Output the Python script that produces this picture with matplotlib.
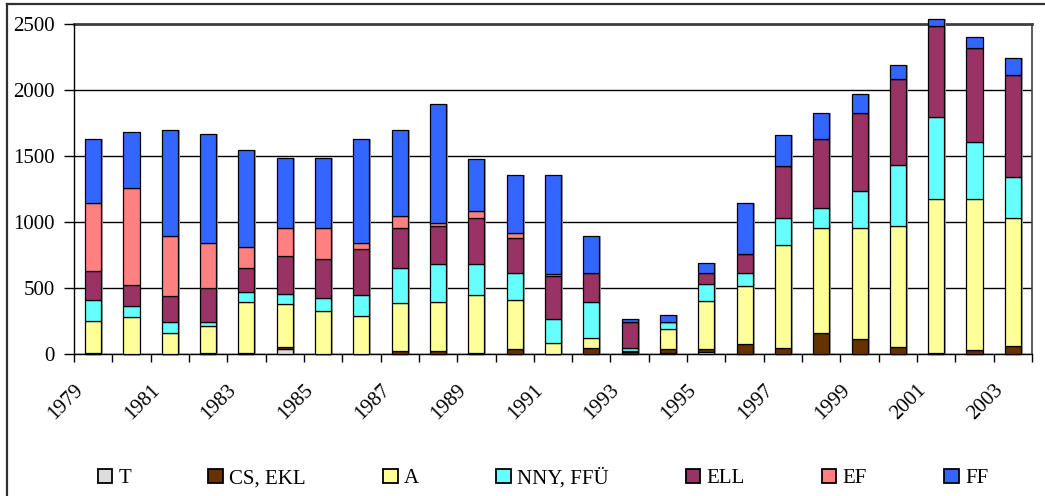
import matplotlib
matplotlib.use("Agg")
import matplotlib.pyplot as plt
import matplotlib.transforms as mtransforms
from matplotlib.lines import Line2D
import numpy as np

years = list(range(1979, 2004))
series_names = ["T", "CS, EKL", "A", "NNY, FFÜ", "ELL", "EF", "FF"]
colors = ["#DDDDDD", "#663300", "#FFFF99", "#66FFFF", "#993366", "#FF8080", "#3366FF"]

T_vals = [0, 0, 0, 0, 0, 40, 0, 0, 0, 0, 0, 0, 0, 0, 0, 5, 15, 0, 0, 0, 0, 0, 0, 0, 0]
CS_vals = [10, 2, 0, 10, 8, 16, 0, 0, 20, 20, 8, 35, 0, 43, 15, 30, 25, 73, 43, 159, 111, 56, 5, 33, 58]
A_vals = [240, 278, 162, 202, 386, 323, 328, 290, 364, 374, 439, 372, 81, 76, 10, 154, 364, 440, 780, 793, 841, 911, 1169, 1141, 972]
NNY_vals = [157, 81, 78, 28, 78, 78, 94, 154, 270, 288, 235, 207, 182, 275, 18, 51, 128, 101, 205, 156, 285, 465, 621, 429, 308]
ELL_vals = [222, 164, 199, 260, 182, 285, 300, 354, 298, 285, 346, 262, 325, 220, 202, 5, 79, 146, 396, 518, 586, 649, 690, 717, 773]
EF_vals = [517, 730, 452, 338, 159, 210, 230, 40, 93, 23, 58, 41, 18, 0, 0, 0, 0, 0, 0, 0, 0, 0, 0, 0, 0]
FF_vals = [483, 424, 806, 829, 730, 535, 535, 791, 652, 901, 389, 441, 752, 277, 18, 53, 80, 381, 232, 200, 144, 111, 50, 79, 129]

series = [T_vals, CS_vals, A_vals, NNY_vals, ELL_vals, EF_vals, FF_vals]
yticks = [0, 500, 1000, 1500, 2000, 2500]

plt.rcParams["font.family"] = ["Liberation Serif", "DejaVu Serif"]
FS = 15

W, H = 1045, 496
fig = plt.figure(figsize=(W / 100, H / 100), dpi=100)
ax = fig.add_axes([74 / W, 1 - 354 / H, (1032 - 74) / W, (354 - 24) / H])

x = np.arange(len(years))
bottom = np.zeros(len(years))
handles = []
for name, vals, c in zip(series_names, series, colors):
    v = np.array(vals, dtype=float)
    # shadow
    ax.bar(x + 0.05, v, bottom=bottom, width=0.42, color="#A0A0A0", edgecolor="none",
           zorder=2, clip_on=False)
    bars = ax.bar(x, v, bottom=bottom, width=0.42, color=c, edgecolor="black",
                  linewidth=0.9, zorder=3, label=name, clip_on=False)
    handles.append(bars)
    bottom += v

ax.set_xlim(-0.5, len(years) - 0.5)
ax.set_ylim(0, 2500)

ax.set_yticks(yticks)
ax.set_yticklabels([str(t) for t in yticks], fontsize=FS)
ax.tick_params(axis="y", direction="out", length=7, width=1, pad=7)
ax.yaxis.grid(True, color="black", linewidth=1)
ax.set_axisbelow(True)

ax.set_xticks(np.arange(-0.5, len(years) + 0.5, 1.0))
ax.set_xticklabels([])
ax.tick_params(axis="x", which="major", direction="out", length=6, width=1)
ax.set_xticks(x[::2], [str(y) for y in years[::2]], minor=True)
ax.tick_params(axis="x", which="minor", length=0, pad=19, labelsize=FS, labelrotation=45)
offset = mtransforms.ScaledTranslation(-6 / 100, 0, fig.dpi_scale_trans)
for lbl in ax.get_xticklabels(minor=True):
    lbl.set_ha("right")
    lbl.set_va("top")
    lbl.set_transform(lbl.get_transform() + offset)

for s in ["left", "bottom"]:
    ax.spines[s].set_color("black")
    ax.spines[s].set_linewidth(1)
ax.spines["top"].set_color("#404040")
ax.spines["top"].set_linewidth(2)
ax.spines["right"].set_color("#404040")
ax.spines["right"].set_linewidth(1.2)
ax.spines["top"].set_zorder(1)

# outer chart border
fig.add_artist(Line2D([6.5 / W, 6.5 / W], [1 - 4 / H, -0.01], color="#303030", linewidth=1.6,
                      transform=fig.transFigure))
fig.add_artist(Line2D([6.5 / W, 1.01], [1 - 4 / H, 1 - 4 / H], color="#303030", linewidth=1.6,
                      transform=fig.transFigure))

leg = fig.legend(handles=handles, labels=series_names, loc="center",
                 bbox_to_anchor=(543 / W, 1 - 478 / H), ncol=7, frameon=False,
                 fontsize=FS, handlelength=0.7, handleheight=0.7, handletextpad=0.3,
                 columnspacing=3.7, borderaxespad=0)
for p in leg.get_patches():
    p.set_linewidth(1.3)

fig.savefig("out.png", dpi=100)
